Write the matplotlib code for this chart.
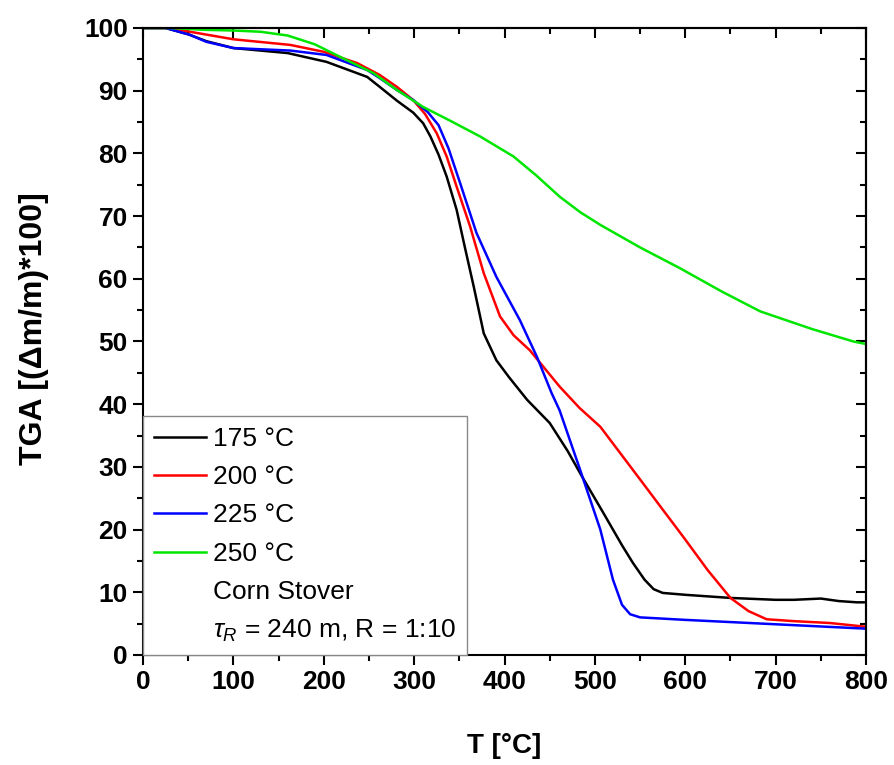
import numpy as np
import matplotlib
matplotlib.use('Agg')
import matplotlib.pyplot as plt
from matplotlib.lines import Line2D
from matplotlib.ticker import MultipleLocator

plt.rcParams['font.family'] = ['Liberation Sans', 'DejaVu Sans']
plt.rcParams['mathtext.fontset'] = 'custom'
plt.rcParams['mathtext.rm'] = 'Liberation Sans'
plt.rcParams['mathtext.it'] = 'Liberation Sans:italic'

# courbes TGA
T_175 = [0, 25, 50, 70, 100, 160, 203, 248, 262, 281, 299, 310, 318, 327, 336, 347, 356, 366, 377, 391, 405, 425,
         450, 470, 486, 510, 530, 542, 555, 565, 575, 600, 650, 700, 720, 750, 770, 790, 800]
tga_175 = [100, 100, 99, 97.9, 96.8, 96.0, 94.6, 92.2, 90.6, 88.4, 86.5, 84.8, 82.7, 79.8, 76.3, 71, 65.1, 58.7, 51.3, 47, 44.3, 40.7,
           37, 32.5, 28.4, 22.5, 17.5, 14.7, 12, 10.5, 9.9, 9.6, 9.1, 8.8, 8.8, 9.0, 8.6, 8.4, 8.4]

T_200 = [0, 30, 52, 100, 163, 200, 237, 262, 281, 299, 312, 325, 336, 347, 362, 377, 395, 410, 428, 461, 483, 506,
         550, 575, 598, 625, 650, 670, 690, 720, 760, 800]
tga_200 = [100, 100, 99.4, 98.2, 97.3, 96.2, 94.4, 92.5, 90.6, 88.5, 86.3, 83.2, 79.5, 74.7, 68.3, 60.9, 54, 51, 48.6, 42.8, 39.4, 36.4,
           28, 23.2, 18.8, 13.5, 9.1, 7, 5.7, 5.4, 5.1, 4.5]

T_225 = [0, 25, 52, 70, 100, 163, 203, 248, 262, 281, 299, 315, 327, 338, 351, 369, 391, 417, 436, 452, 461, 483,
         506, 520, 530, 539, 550, 600, 700, 800]
tga_225 = [100, 100, 98.9, 97.8, 96.8, 96.4, 95.7, 93.3, 92, 90.1, 88.5, 86.6, 84.5, 80.8, 75.2, 67.3, 60.3, 53.4, 47.5, 41.8, 39, 29.8,
           20, 12, 8, 6.5, 6, 5.6, 4.9, 4.2]

T_250 = [0, 30, 70, 100, 130, 160, 190, 218, 255, 280, 310, 340, 373, 410, 435, 461, 484, 506, 550, 594, 640,
         683, 740, 786, 800]
tga_250 = [100, 100, 99.7, 99.6, 99.4, 98.8, 97.4, 95.4, 92.8, 90.2, 87.4, 85.2, 82.7, 79.5, 76.5, 73.1, 70.6, 68.6, 65, 61.7, 58,
           54.8, 52, 50, 49.6]

fig = plt.figure(figsize=(8.94, 7.65), dpi=100)
ax = fig.add_axes([0.16, 0.1438, 0.8087, 0.8196])

lw = 1.8
ax.plot(T_175, tga_175, color='black', lw=lw, label='175 °C')
ax.plot(T_200, tga_200, color='#ff0000', lw=lw, label='200 °C')
ax.plot(T_225, tga_225, color='#0000ff', lw=lw, label='225 °C')
ax.plot(T_250, tga_250, color='#00e600', lw=lw, label='250 °C')

ax.set_xlim(0, 800)
ax.set_ylim(0, 100)
ax.xaxis.set_major_locator(MultipleLocator(100))
ax.xaxis.set_minor_locator(MultipleLocator(50))
ax.yaxis.set_major_locator(MultipleLocator(10))
ax.yaxis.set_minor_locator(MultipleLocator(5))
ax.tick_params(which='major', direction='out', length=7, width=1.5, labelsize=19, pad=4)
ax.tick_params(which='minor', direction='out', length=4, width=1.5)
for lab in ax.get_xticklabels() + ax.get_yticklabels():
    lab.set_fontweight('bold')
for s in ax.spines.values():
    s.set_linewidth(1.5)

# ticks vers l'intérieur en haut et à droite
top = ax.secondary_xaxis('top')
top.xaxis.set_major_locator(MultipleLocator(100))
top.xaxis.set_minor_locator(MultipleLocator(50))
top.tick_params(which='major', direction='in', length=7, width=1.5, labeltop=False)
top.tick_params(which='minor', direction='in', length=4, width=1.5)
top.spines['top'].set_linewidth(1.5)
right = ax.secondary_yaxis('right')
right.yaxis.set_major_locator(MultipleLocator(10))
right.yaxis.set_minor_locator(MultipleLocator(5))
right.tick_params(which='major', direction='in', length=7, width=1.5, labelright=False)
right.tick_params(which='minor', direction='in', length=4, width=1.5)
right.spines['right'].set_linewidth(1.5)

ax.set_xlabel('T [°C]', fontsize=20, fontweight='bold', labelpad=28)
ax.set_ylabel('TGA [(Δm/m)*100]', fontsize=23, fontweight='bold')
ax.yaxis.set_label_coords(-0.13, 0.52)

handles, labels = ax.get_legend_handles_labels()
handles += [Line2D([], [], color='none'), Line2D([], [], color='none')]
labels += ['Corn Stover', r'$\tau_R$ = 240 m, R = 1:10']
leg = ax.legend(handles, labels, loc='lower left', fontsize=19, frameon=True, fancybox=False,
                framealpha=1, edgecolor='#888888', borderaxespad=0, handlelength=2.0,
                handletextpad=0.25, labelspacing=0.54, borderpad=0.4)
leg.get_frame().set_linewidth(1.0)

fig.savefig('out.png', dpi=100)
